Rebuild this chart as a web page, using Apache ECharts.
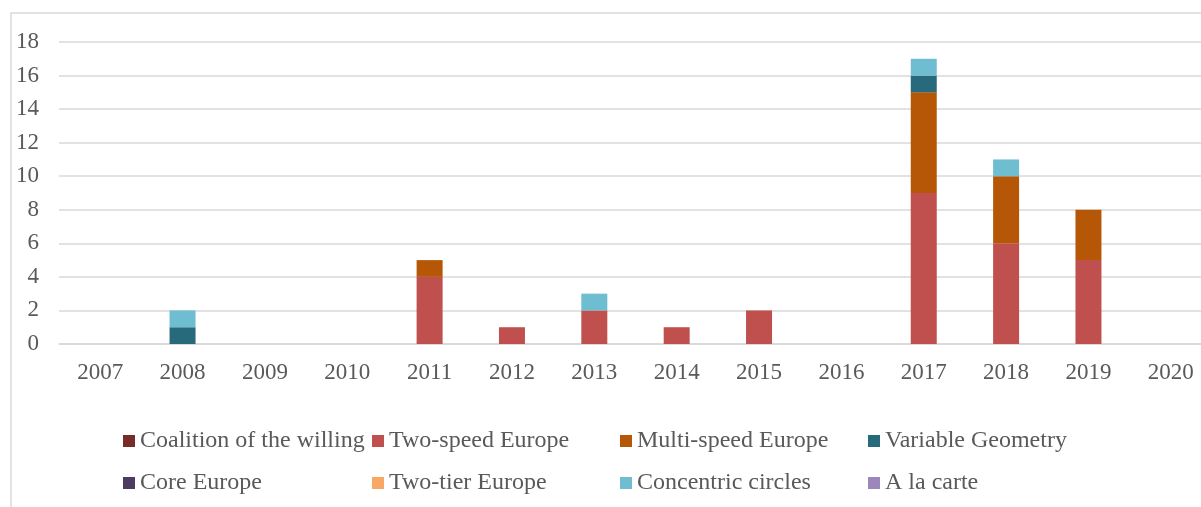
<!DOCTYPE html>
<html>
<head>
<meta charset="utf-8">
<script src="https://cdn.jsdelivr.net/npm/echarts@6/dist/echarts.min.js"></script>
<style>
  html, body { margin: 0; padding: 0; background: #fff; overflow: hidden; }
  /* plot runs past the right edge in the original, so the canvas is wider than the window */
  #chart { width: 1230px; height: 507px; }
</style>
</head>
<body>
<div id="chart"></div>
<script>
var years = ['2007', '2008', '2009', '2010', '2011', '2012', '2013', '2014', '2015', '2016', '2017', '2018', '2019', '2020']
var seriesNames = ['Coalition of the willing', 'Two-speed Europe', 'Multi-speed Europe', 'Variable Geometry',
  'Core Europe', 'Two-tier Europe', 'Concentric circles', 'A la carte']
var coalition = [0, 0, 0, 0, 0, 0, 0, 0, 0, 0, 0, 0, 0, 0]
var twoSpeed = [0, 0, 0, 0, 4, 1, 2, 1, 2, 0, 9, 6, 5, 0]
var multiSpeed = [0, 0, 0, 0, 1, 0, 0, 0, 0, 0, 6, 4, 3, 0]
var variableGeometry = [0, 1, 0, 0, 0, 0, 0, 0, 0, 0, 1, 0, 0, 0]
var coreEurope = [0, 0, 0, 0, 0, 0, 0, 0, 0, 0, 0, 0, 0, 0]
var twoTier = [0, 0, 0, 0, 0, 0, 0, 0, 0, 0, 0, 0, 0, 0]
var concentric = [0, 1, 0, 0, 0, 0, 1, 0, 0, 0, 1, 1, 0, 0]
var aLaCarte = [0, 0, 0, 0, 0, 0, 0, 0, 0, 0, 0, 0, 0, 0]

var values = [coalition, twoSpeed, multiSpeed, variableGeometry, coreEurope, twoTier, concentric, aLaCarte]
var colors = ['#772c2a', '#c0504d', '#b65708', '#276a7c', '#4d3b62', '#f9a764', '#6fbdd1', '#9d86b9']

var font = '"Liberation Serif", "Times New Roman", serif'

// legend in fixed columns: one legend per item
var colX = [118, 367, 615, 863]
var rowY = [424, 466]
var legends = seriesNames.map(function(name, i) {
  return {
    data: [name],
    left: colX[i % 4],
    top: rowY[Math.floor(i / 4)],
    itemWidth: 12,
    itemHeight: 12,
    icon: 'rect',
    selectedMode: false,
    textStyle: { fontFamily: font, fontSize: 24, color: '#595959' }
  }
})

var chart = echarts.init(document.getElementById('chart'))
chart.setOption({
  animation: false,
  color: colors,
  textStyle: { fontFamily: font },
  graphic: [{
    type: 'rect',
    shape: { x: 11, y: 13, width: 1300, height: 600 },
    style: { fill: 'none', stroke: '#d9d9d9', lineWidth: 1.5 },
    silent: true,
    z: -10
  }],
  legend: legends,
  grid: { left: 59, top: 42, width: 1153, height: 302, containLabel: false },
  xAxis: {
    type: 'category',
    data: years,
    axisLine: { lineStyle: { color: '#d9d9d9', width: 1.5 } },
    axisTick: { show: false },
    axisLabel: { fontFamily: font, fontSize: 23, color: '#595959', margin: 17 }
  },
  yAxis: {
    type: 'value',
    min: 0,
    max: 18,
    interval: 2,
    axisLine: { show: false },
    axisTick: { show: false },
    splitLine: { lineStyle: { color: '#d9d9d9', width: 1.5 } },
    axisLabel: { fontFamily: font, fontSize: 23, color: '#595959', margin: 20 }
  },
  series: seriesNames.map(function(name, i) {
    return {
      name: name,
      type: 'bar',
      stack: 'total',
      barWidth: 26,
      data: values[i]
    }
  })
})
</script>
</body>
</html>
